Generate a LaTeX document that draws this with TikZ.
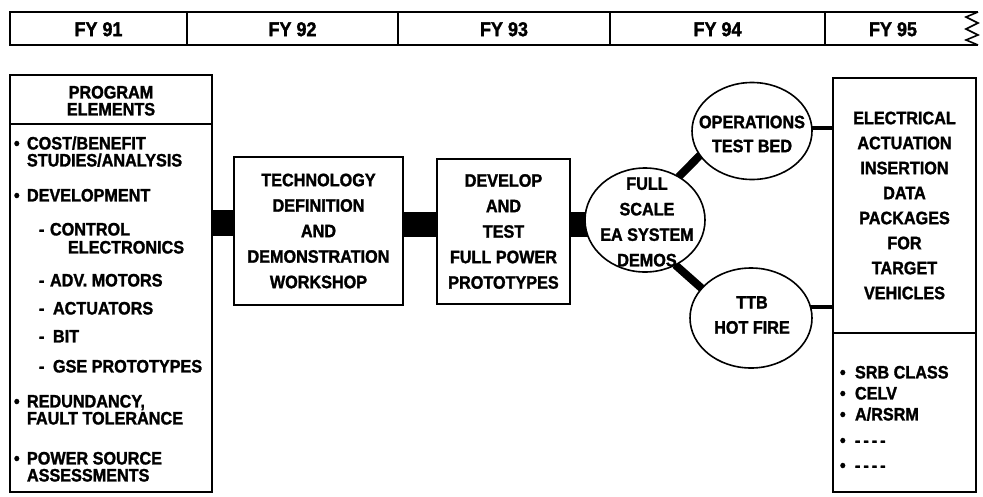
\documentclass[tikz,border=0pt]{standalone}
\usepackage{fontspec}
\setmainfont{Liberation Sans}[FakeStretch=0.9, BoldFeatures={FakeBold=1.5}]
\usetikzlibrary{shapes.geometric,backgrounds}
\tikzset{
  every node/.style={inner sep=0pt, outer sep=0pt},
  tx/.style={font=\fontsize{18}{18}\selectfont\bfseries, text height=12.9pt, text depth=0pt},
  lt/.style={tx, anchor=west},
  ct/.style={tx, anchor=center},
  fy/.style={font=\fontsize{20}{20}\selectfont\bfseries, text height=14.3pt, text depth=0pt},
  mline/.style={align=center, font=\fontsize{18}{25.5}\selectfont\bfseries},
  box/.style={draw, line width=1.6pt, fill=white},
  oval/.style={draw, ellipse, line width=1.6pt, fill=white},
  bar/.style={line width=1.6pt},
  blk/.style={fill=black},
  diag/.style={line width=8pt},
  thin link/.style={line width=3.5pt},
}
\begin{document}
\begin{tikzpicture}[x=1pt,y=-1pt]
\useasboundingbox (0,0) rectangle (983,496);

% ---- top time bar
\coordinate (tl) at (10,12);
\coordinate (bl) at (10,45);
\coordinate (tr) at (978,12);
\coordinate (br) at (978,45);
\draw[bar] (tr) -- (tl) -- (bl) -- (br);
\draw[bar] (tr) -- (966,17) -- (978,23) -- (966,29) -- (978,35) -- (966,40) -- (br);
\foreach \x/\n in {187/a,398/b,610/c,825/d}{
  \coordinate (d\n t) at (\x,12);
  \coordinate (d\n b) at (\x,45);
  \draw[bar] (d\n t) -- (d\n b);
}
\node[fy] (fy91) at (98.5,29) {FY 91};
\node[fy] (fy92) at (292.5,29) {FY 92};
\node[fy] (fy93) at (504,29) {FY 93};
\node[fy] (fy94) at (717.5,29) {FY 94};
\node[fy] (fy95) at (893,29) {FY 95};

% ---- program elements box
\node[box, minimum width=202pt, minimum height=417pt] (pe) at (111,283.5) {};
\coordinate (peL) at (10,124);
\coordinate (peR) at (212,124);
\draw[bar] (peL) -- (peR);
\node[ct] (h1) at (111,92) {PROGRAM};
\node[ct] (h2) at (111,109) {ELEMENTS};

\node[lt] (b1) at (14,143) {\textbullet};
\node[lt] (i1a) at (27,143) {COST/BENEFIT};
\node[lt] (i1b) at (27,160) {STUDIES/ANALYSIS};
\node[lt] (b2) at (14,195) {\textbullet};
\node[lt] (i2) at (27,195) {DEVELOPMENT};
\node[lt] (s1d) at (39,229) {-};
\node[lt] (s1a) at (50,229) {CONTROL};
\node[lt] (s1b) at (68,247) {ELECTRONICS};
\node[lt] (s2d) at (39,280) {-};
\node[lt] (s2) at (50,280) {ADV. MOTORS};
\node[lt] (s3d) at (39,308) {-};
\node[lt] (s3) at (53,308) {ACTUATORS};
\node[lt] (s4d) at (39,336) {-};
\node[lt] (s4) at (53,336) {BIT};
\node[lt] (s5d) at (39,366) {-};
\node[lt] (s5) at (53,366) {GSE PROTOTYPES};
\node[lt] (b3) at (14,401) {\textbullet};
\node[lt] (i3a) at (27,401) {REDUNDANCY,};
\node[lt] (i3b) at (27,418) {FAULT TOLERANCE};
\node[lt] (b4) at (14,458) {\textbullet};
\node[lt] (i4a) at (27,458) {POWER SOURCE};
\node[lt] (i4b) at (27,475) {ASSESSMENTS};

% ---- process boxes
\node[box, mline, minimum width=169pt, minimum height=148pt] (tech) at (318.5,231)
  {TECHNOLOGY\\DEFINITION\\AND\\DEMONSTRATION\\WORKSHOP};
\node[box, mline, minimum width=133pt, minimum height=145pt] (dev) at (503.5,231.5)
  {DEVELOP\\AND\\TEST\\FULL POWER\\PROTOTYPES};

% ---- ovals
\node[oval, minimum width=120pt, minimum height=104pt] (fs) at (645,220) {};
\node[mline] (fsT) at (647,222) {FULL\\SCALE\\EA SYSTEM\\DEMOS};
\node[oval, minimum width=120pt, minimum height=97pt] (ops) at (752,131) {};
\node[mline, font=\fontsize{18}{24}\selectfont\bfseries] (opsT) at (752,134) {OPERATIONS\\TEST BED};
\node[oval, minimum width=122pt, minimum height=100pt] (ttb) at (751,318) {};
\node[mline, font=\fontsize{18}{25}\selectfont\bfseries] (ttbT) at (752,315) {TTB\\HOT FIRE};

% ---- right box
\node[box, mline, font=\fontsize{18}{25}\selectfont\bfseries, minimum width=143pt, minimum height=255pt] (rbT) at (904.5,205.5)
  {ELECTRICAL\\ACTUATION\\INSERTION\\DATA\\PACKAGES\\FOR\\TARGET\\VEHICLES};
\node[box, minimum width=143pt, minimum height=159pt] (rbB) at (904.5,412.5) {};
\node[lt] (v1b) at (840,372) {\textbullet};
\node[lt] (v1) at (855,372) {SRB CLASS};
\node[lt] (v2b) at (840,393) {\textbullet};
\node[lt] (v2) at (855,393) {CELV};
\node[lt] (v3b) at (840,414) {\textbullet};
\node[lt] (v3) at (855,414) {A/RSRM};
\node[lt] (v4b) at (840,440) {\textbullet};
\node[lt] (v4) at (855,440) {-\,-\,-\,-};
\node[lt] (v5b) at (840,465) {\textbullet};
\node[lt] (v5) at (855,465) {-\,-\,-\,-};

% ---- connectors
\begin{pgfonlayer}{background}
\fill[blk] (pe.east |- 0,210) rectangle (tech.west |- 0,236);
\fill[blk] (tech.east |- 0,212) rectangle (dev.west |- 0,237);
\fill[blk] (dev.east |- 0,212) rectangle (fs.center |- 0,237);
\draw[diag] (fs.52) -- (ops.205);
\draw[diag] (fs.304) -- (ttb.149);
\draw[thin link] (ops.center |- 0,128) -- (rbT.west |- 0,128);
\draw[thin link] (ttb.center |- 0,307) -- (rbT.west |- 0,307);
\end{pgfonlayer}
\end{tikzpicture}
\end{document}
